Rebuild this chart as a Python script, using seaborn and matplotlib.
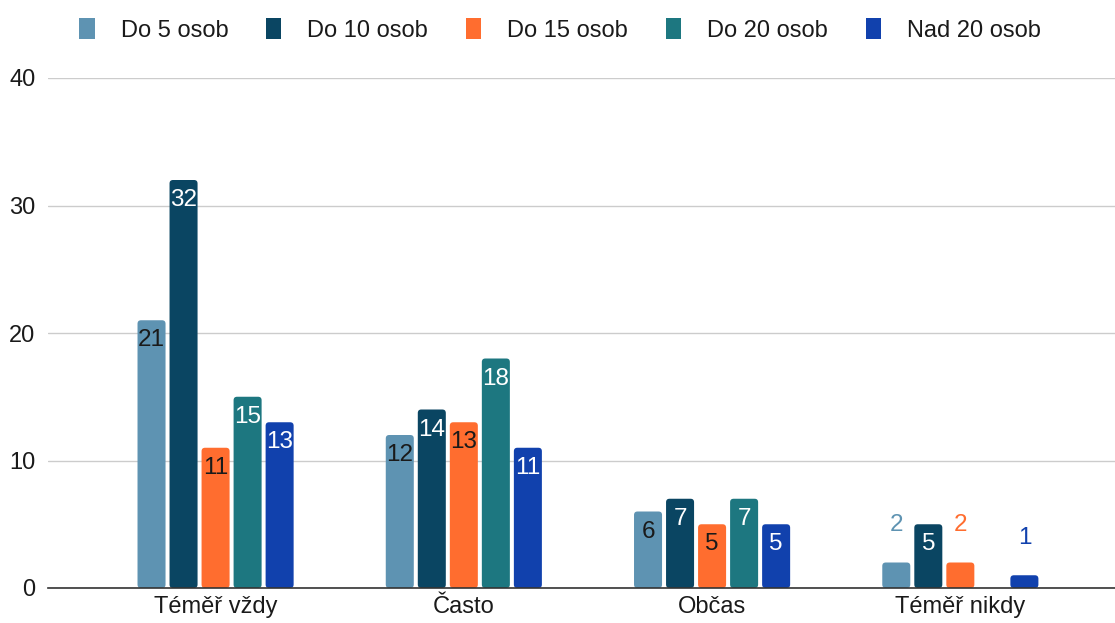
import matplotlib
matplotlib.use("Agg")
import matplotlib.pyplot as plt
from matplotlib.patches import FancyBboxPatch, Patch
import seaborn as sns
import pandas as pd

categories = ["Téměř vždy", "Často", "Občas", "Téměř nikdy"]
series = ["Do 5 osob", "Do 10 osob", "Do 15 osob", "Do 20 osob", "Nad 20 osob"]
do5 = [21, 12, 6, 2]
do10 = [32, 14, 7, 5]
do15 = [11, 13, 5, 2]
do20 = [15, 18, 7, 0]
nad20 = [13, 11, 5, 1]
yticks = [0, 10, 20, 30, 40]

colors = ["#5E93B2", "#0A4562", "#FF6D2F", "#1D7780", "#1141AD"]
inside_text = ["#1a1a1a", "white", "#1a1a1a", "white", "white"]

values = [do5, do10, do15, do20, nad20]
df = pd.DataFrame({
    "kategorie": [c for _ in series for c in categories],
    "skupina": [s for s in series for _ in categories],
    "pocet": [v for vals in values for v in vals],
})

sns.set_theme(style="white")
plt.rcParams["font.family"] = ["Liberation Sans", "DejaVu Sans"]

fig = plt.figure(figsize=(11.15, 6.23), dpi=100)
ax = fig.add_axes([48 / 1115, 1 - 588 / 623, 1 - 48 / 1115, (588 - 78) / 623])

sns.barplot(data=df, x="kategorie", y="pocet", hue="skupina",
            order=categories, hue_order=series, palette=colors,
            width=0.645, gap=0.125, saturation=1, legend=False, ax=ax)

ax.set_ylim(0, 40)
ax.set_xlim(-0.675, 3.623)
ax.set_yticks(yticks)
ax.yaxis.grid(True, color="#cccccc", lw=1)
ax.set_axisbelow(True)
for side in ["top", "right", "left"]:
    ax.spines[side].set_visible(False)
ax.spines["bottom"].set_color("#333333")
ax.spines["bottom"].set_linewidth(1.2)
ax.spines["bottom"].set_zorder(5)
ax.tick_params(axis="both", length=0, labelsize=17, colors="#1a1a1a")
ax.tick_params(axis="y", pad=9)
ax.tick_params(axis="x", pad=6)
ax.set_xlabel("")
ax.set_ylabel("")

# rounded bar tops, plus value labels
y_per_x = (1 / 12.75) / (1 / 248.3)
for i, cont in enumerate(ax.containers):
    for bar, val in zip(cont.patches, values[i]):
        x0, w, h = bar.get_x(), bar.get_width(), bar.get_height()
        bar.set_visible(False)
        if val <= 0:
            continue
        r = min(0.014, h / y_per_x / 2)
        fb = FancyBboxPatch((x0, 0), w, h,
                            boxstyle=f"round,pad=0,rounding_size={r}",
                            mutation_aspect=y_per_x,
                            facecolor=colors[i], edgecolor="none", zorder=3)
        ax.add_patch(fb)
        cx = x0 + w / 2
        if val >= 3:
            ax.annotate(str(val), (cx, val), xytext=(0, -14.5),
                        textcoords="offset points", ha="center", va="center",
                        fontsize=17.5, color=inside_text[i], zorder=6)
        else:
            ax.annotate(str(val), (cx, val), xytext=(0, 27),
                        textcoords="offset points", ha="center", va="center",
                        fontsize=17.5, color=colors[i], zorder=6)

handles = [Patch(facecolor=c, edgecolor="none") for c in colors]
fig.legend(handles, series, loc="center", bbox_to_anchor=(560 / 1115, 1 - 30 / 623),
           ncol=5, frameon=False, fontsize=17, handlelength=0.65, handleheight=0.95,
           handletextpad=1.1, columnspacing=1.6, labelcolor="#1a1a1a")

fig.savefig("out.png", dpi=100)
